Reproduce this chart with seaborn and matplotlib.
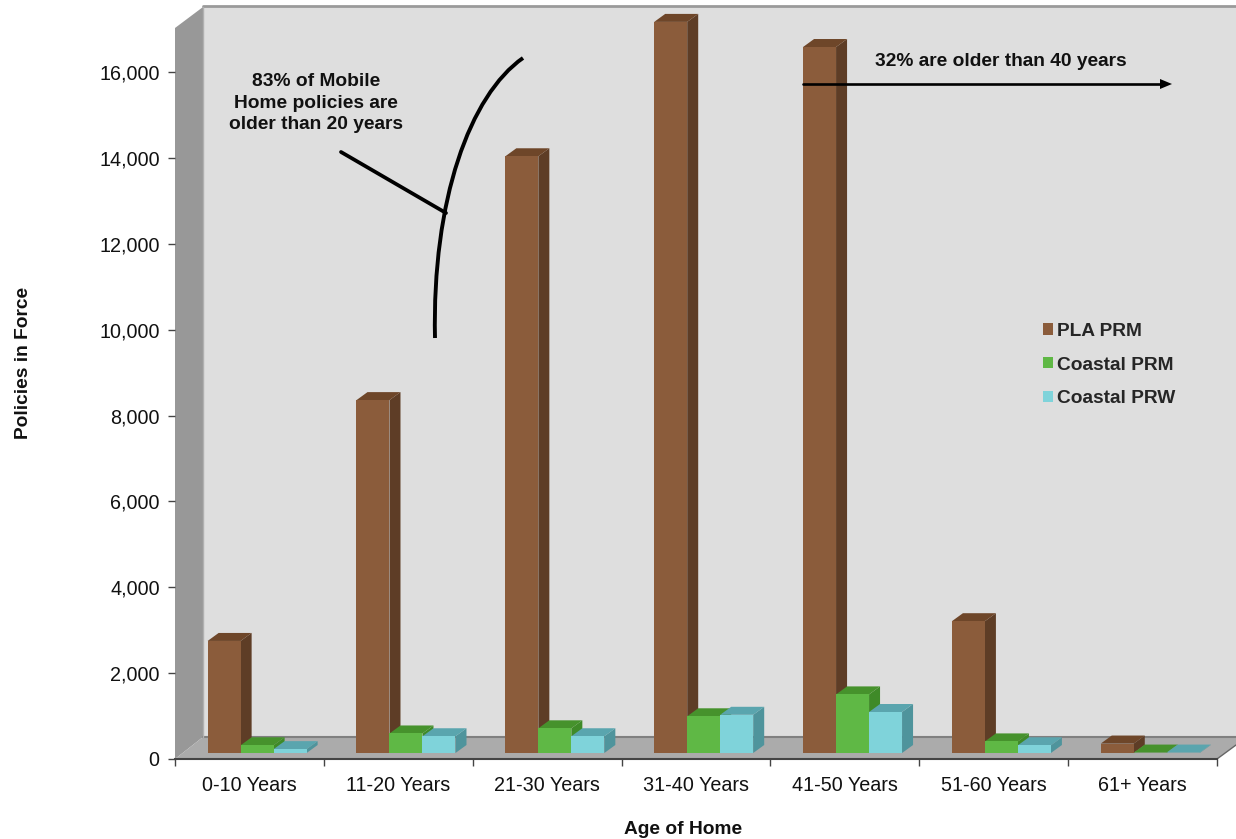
import matplotlib
matplotlib.use("Agg")
import matplotlib.pyplot as plt
import seaborn as sns
import pandas as pd
from matplotlib.patches import Polygon, PathPatch
from matplotlib.path import Path
from matplotlib.transforms import Affine2D

categories = ["0-10 Years", "11-20 Years", "21-30 Years", "31-40 Years",
              "41-50 Years", "51-60 Years", "61+ Years"]
pla_prm = [2610, 8220, 13900, 17030, 16445, 3070, 220]
coastal_prm = [180, 455, 575, 855, 1365, 270, 10]
coastal_prw = [90, 390, 390, 890, 955, 180, 10]
series_names = ["PLA PRM", "Coastal PRM", "Coastal PRW"]
tick_values = [0, 2000, 4000, 6000, 8000, 10000, 12000, 14000, 16000]

front = ["#8B5C3B", "#5FB845", "#7FD3DA"]
side = ["#5E3D26", "#3F8A28", "#4F949C"]
top = ["#6E4629", "#46922C", "#5AA5AE"]

sns.set_theme(style="white")
plt.rcParams["font.family"] = ["Liberation Sans", "DejaVu Sans"]

W, H = 1236, 839
fig = plt.figure(figsize=(W / 100, H / 100), dpi=100, facecolor="white")
L, R, T, B = 175, 1217, 28, 759
ax = fig.add_axes([L / W, 1 - B / H, (R - L) / W, (B - T) / H])
ax.patch.set_visible(False)

px = Affine2D().scale(1 / W, -1 / H).translate(0, 1) + fig.transFigure

df = pd.DataFrame({
    "age": categories * 3,
    "series": sum([[n] * len(categories) for n in series_names], []),
    "value": pla_prm + coastal_prm + coastal_prw,
})
sns.barplot(data=df, x="age", y="value", hue="series", palette=front,
            width=0.665, gap=0, saturation=1, linewidth=0, ax=ax, zorder=3)
ax.set_xlim(-0.5, 6.5)
y_scale = 0.04293
ax.set_ylim(0, (B - T) / y_scale)

# chart box: wall, side wall and floor
bg = [
    ([(203, 7), (1236, 7), (1236, 737), (203, 737)], "#DEDEDE"),
    ([(175, 28), (203, 7), (203, 737), (175, 759)], "#989898"),
    ([(175, 759), (203, 737), (1236, 737), (1236, 745), (1217, 759)], "#ABABAB"),
]
for pts, c in bg:
    ax.add_patch(Polygon(pts, closed=True, transform=px, facecolor=c,
                         edgecolor="none", clip_on=False, zorder=0.5))
for xs, ys, c, lw in [((203, 1236), (6, 6), "#9A9A9A", 2),
                      ((203, 1236), (737, 737), "#808080", 1.5),
                      ((203, 203), (7, 737), "#B0B0B0", 1),
                      ((1217, 1236), (759, 745), "#666666", 1)]:
    ax.plot(xs, ys, color=c, lw=lw, transform=px, clip_on=False, zorder=0.7)

# 3D faces built on the bars
cat_px = (R - L) / 7
ddx, ddy = 11 / cat_px, 8 / y_scale
shift = ax.transData + Affine2D().translate(7.7, 6)
for i, cont in enumerate(ax.containers):
    for bar in cont:
        bar.set_transform(shift)
        bar.set_clip_on(False)
        x0, w, h = bar.get_x(), bar.get_width(), bar.get_height()
        x1 = x0 + w
        ax.add_patch(Polygon([(x1, 0), (x1 + ddx, ddy), (x1 + ddx, h + ddy), (x1, h)],
                             transform=shift, facecolor=side[i], edgecolor="none",
                             clip_on=False, zorder=2 + i * 0.1))
        ax.add_patch(Polygon([(x0, h), (x0 + ddx, h + ddy), (x1 + ddx, h + ddy), (x1, h)],
                             transform=shift, facecolor=top[i], edgecolor="none",
                             clip_on=False, zorder=2.05 + i * 0.1))

# axes styling
for s in ["top", "right", "left"]:
    ax.spines[s].set_visible(False)
ax.spines["bottom"].set_color("#444444")
ax.spines["bottom"].set_linewidth(1.5)
ax.spines["bottom"].set_zorder(4)
ax.set_yticks(tick_values)
ax.set_yticklabels([f"{v:,}" for v in tick_values])
ax.set_xticks([i + 0.5 for i in range(-1, 7)], minor=True)
ax.tick_params(axis="x", which="major", length=0, pad=12, labelsize=14.2, labelcolor="#111111")
ax.tick_params(axis="x", which="minor", length=5, width=1, color="#444444", bottom=True)
ax.tick_params(axis="y", length=5, width=1, color="#444444", pad=6, left=True,
               labelsize=14.2, labelcolor="#111111")
ax.set_xlabel("Age of Home", fontweight="bold", fontsize=13.8, color="#111111")
ax.xaxis.set_label_coords((683 - L) / (R - L), -(830 - B) / (B - T))
ax.xaxis.label.set_va("center")
ax.set_ylabel("Policies in Force", fontweight="bold", fontsize=13.8, color="#111111")
ax.yaxis.set_label_coords((24 - L) / (R - L), (B - 363) / (B - T))
ax.yaxis.label.set_va("center")

# legend
handles = [plt.Rectangle((0, 0), 1, 1, facecolor=c, edgecolor="none") for c in front]
ax.legend(handles, series_names, frameon=False,
          prop={"weight": "bold", "size": 13.8},
          loc="upper left", bbox_to_anchor=(1037 / W, 1 - 317 / H),
          bbox_transform=fig.transFigure, borderpad=0.3, borderaxespad=0,
          handlelength=0.53, handleheight=0.53, handletextpad=0.2, labelspacing=0.88)

# annotations
ax.text(316, 103, "83% of Mobile\nHome policies are\nolder than 20 years", transform=px,
        ha="center", va="center", fontweight="bold", fontsize=13.8, color="#111111",
        linespacing=1.375, zorder=6)
ax.text(1001, 61, "32% are older than 40 years", transform=px, ha="center", va="center",
        fontweight="bold", fontsize=13.8, color="#111111", zorder=6)
ax.plot([341, 446], [152, 213], color="black", lw=2.7, transform=px, clip_on=False, zorder=6)
curve = Path([(435, 338), (432, 200), (470, 95), (523, 58)],
             [Path.MOVETO, Path.CURVE4, Path.CURVE4, Path.CURVE4])
ax.add_patch(PathPatch(curve, facecolor="none", edgecolor="black", lw=2.8, transform=px,
                       clip_on=False, zorder=6))
ax.plot([803, 1164], [84, 84], color="black", lw=1.9, transform=px, clip_on=False, zorder=6)
ax.add_patch(Polygon([(1160, 79), (1172, 84), (1160, 89)], transform=px, facecolor="black",
                     edgecolor="none", clip_on=False, zorder=6))

fig.savefig("out.png", dpi=100)
